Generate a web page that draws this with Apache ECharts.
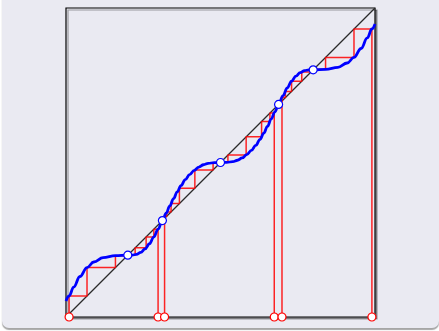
<!DOCTYPE html>
<html>
<head>
<meta charset="utf-8">
<script src="https://cdn.jsdelivr.net/npm/echarts@6/dist/echarts.min.js"></script>
<style>
html,body{margin:0;padding:0;background:#ffffff;width:439px;height:331px;overflow:hidden;}
#card{position:absolute;left:2px;top:-12px;width:437px;height:340px;background:#EAEAF2;border-radius:7px;box-shadow:0 2px 1px rgba(0,0,0,0.35);}
#chart{position:absolute;left:0;top:0;width:439px;height:331px;}
</style>
</head>
<body>
<div id="card"></div>
<div id="chart"></div>
<script>
// Map curve f(x)
const curveX = [0.000,0.010,0.025,0.045,0.068,0.090,0.120,0.160,0.200,0.214,0.228,0.242,0.256,0.270,0.284,0.298,0.312,0.324,0.336,0.348,0.360,0.372,0.386,0.400,0.415,0.430,0.445,0.460,0.480,0.500,0.520,0.540,0.555,0.570,0.585,0.600,0.614,0.628,0.640,0.652,0.664,0.676,0.688,0.702,0.716,0.730,0.744,0.758,0.772,0.786,0.800,0.840,0.880,0.910,0.932,0.955,0.975,0.990,1.000];
const curveY = [0.052,0.068,0.097,0.131,0.160,0.178,0.192,0.1985,0.200,0.2003,0.2028,0.2090,0.2203,0.2370,0.2588,0.2843,0.312,0.336,0.3595,0.383,0.405,0.425,0.4445,0.461,0.4745,0.4853,0.4927,0.4971,0.4997,0.500,0.5003,0.5029,0.5073,0.5147,0.5255,0.539,0.5555,0.575,0.595,0.617,0.6405,0.664,0.688,0.7157,0.7412,0.763,0.7797,0.791,0.7972,0.7997,0.800,0.8015,0.808,0.822,0.840,0.869,0.903,0.932,0.948];
// Fixed points on the diagonal
const fixedPoints = [0.200,0.312,0.500,0.688,0.800];
// Cobweb orbits (iterates read from the staircases)
const orbit1 = [0.010,0.068,0.160,0.1985,0.200];
const orbit2 = [0.298,0.2843,0.2593,0.2238,0.2017,0.200];
const orbit3 = [0.319,0.326,0.340,0.367,0.417,0.476,0.4993];
const orbit4 = [0.674,0.660,0.633,0.583,0.524,0.5007];
const orbit5 = [0.699,0.710,0.730,0.763,0.793,0.7999];
const orbit6 = [0.990,0.932,0.840,0.8015,0.800];
const orbits = [orbit1,orbit2,orbit3,orbit4,orbit5,orbit6];

function cobweb(o){
  const pts=[[o[0],0]];
  for(let i=0;i<o.length-1;i++){
    pts.push([o[i],o[i+1]]);
    pts.push([o[i+1],o[i+1]]);
  }
  return pts;
}

const chart = echarts.init(document.getElementById('chart'), null, {renderer:'canvas'});
const series = [];
series.push({type:'line',data:[[0,0],[1,1]],showSymbol:false,silent:true,z:1,
  lineStyle:{color:'#2a2a2a',width:1.2}});
orbits.forEach(o=>{
  series.push({type:'line',data:cobweb(o),showSymbol:false,silent:true,z:2,
    lineStyle:{color:'rgba(255,0,0,0.85)',width:1.5}});
});
series.push({type:'line',data:curveX.map((x,i)=>[x,curveY[i]]),showSymbol:false,smooth:0.4,smoothMonotone:'x',z:3,
  lineStyle:{color:'#0000ff',width:2.8}});
series.push({type:'scatter',data:fixedPoints.map(v=>[v,v]),symbol:'circle',symbolSize:8,clip:false,z:4,
  itemStyle:{color:'#ffffff',borderColor:'#0000ff',borderWidth:1.2,opacity:1}});
series.push({type:'scatter',data:orbits.map(o=>[o[0],0]),symbol:'circle',symbolSize:8,clip:false,z:4,
  itemStyle:{color:'#ffffff',borderColor:'#ff0000',borderWidth:1.2,opacity:1}});

chart.setOption({
  backgroundColor:'transparent',
  animation:false,
  grid:{left:66,top:8,width:309,height:309,show:true,backgroundColor:'#EAEAF2',
    borderColor:'#000',borderWidth:1.2,shadowColor:'rgba(0,0,0,0.35)',shadowBlur:0,shadowOffsetX:2,shadowOffsetY:2},
  xAxis:{type:'value',min:0,max:1,axisLine:{show:false},axisTick:{show:false},axisLabel:{show:false},splitLine:{show:false}},
  yAxis:{type:'value',min:0,max:1,axisLine:{show:false},axisTick:{show:false},axisLabel:{show:false},splitLine:{show:false}},
  series:series
});
</script>
</body>
</html>
